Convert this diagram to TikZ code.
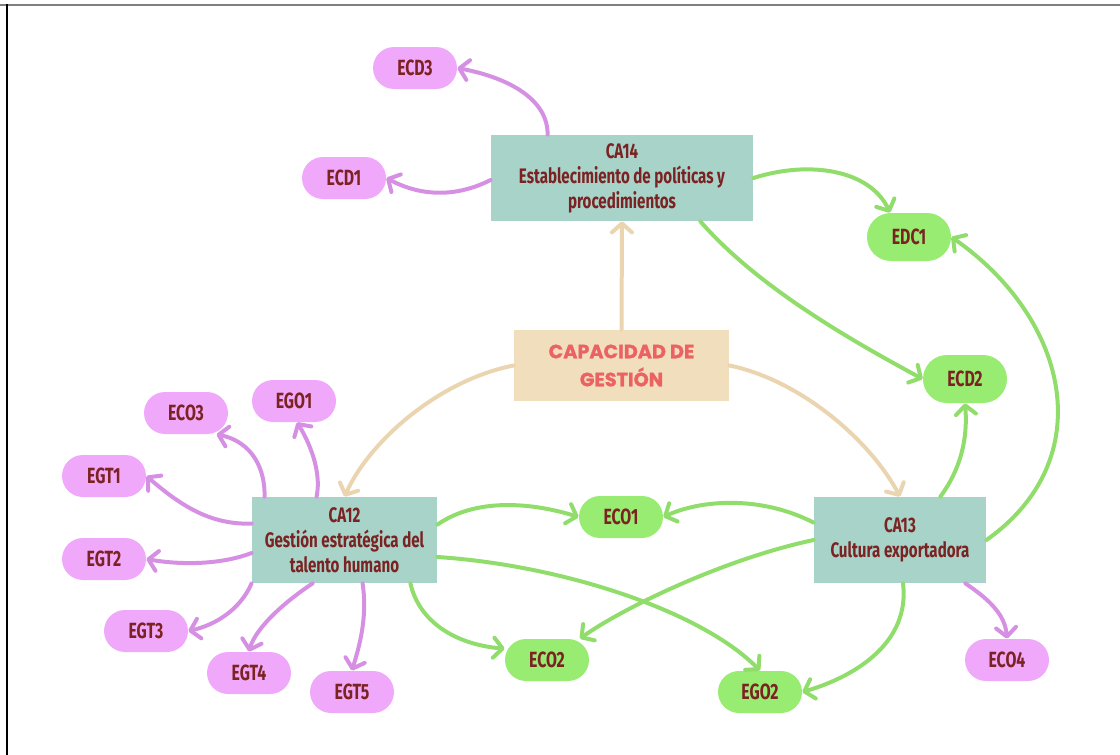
\documentclass[tikz,border=0pt]{standalone}
\usepackage{fontspec}
\setmainfont{Fira Sans}[FakeStretch=0.72]
\newfontfamily\titlefont{Poppins}[BoldFeatures={FakeBold=1.2}]
\usetikzlibrary{arrows.meta}

\definecolor{colTeal}{HTML}{A7D3C9}
\definecolor{colSand}{HTML}{F0DEBD}
\definecolor{colSandLine}{HTML}{EAD5B0}
\definecolor{colPink}{HTML}{F0A9FA}
\definecolor{colPinkLine}{HTML}{D690E3}
\definecolor{colGreen}{HTML}{98EC72}
\definecolor{colGreenLine}{HTML}{90DD6B}
\definecolor{colLabel}{HTML}{7B2222}
\definecolor{colTitle}{HTML}{EC6262}

\tikzset{
  capbox/.style={fill=colTeal, text=colLabel, align=center, inner sep=0pt,
    minimum height=43pt, font=\bfseries\fontsize{10.5}{12.5}\selectfont},
  pill/.style={rounded corners=10.5pt, minimum width=42pt, minimum height=21pt,
    inner sep=0pt, text=colLabel, font=\bfseries\fontsize{11}{12}\selectfont},
  pinkpill/.style={pill, fill=colPink},
  greenpill/.style={pill, fill=colGreen},
  link/.style={line width=2pt, line cap=round, line join=round,
    -{Straight Barb[length=4.5pt,width=10pt,line cap=round,line join=round]}},
  pinklink/.style={link, draw=colPinkLine},
  greenlink/.style={link, draw=colGreenLine},
  sandlink/.style={link, draw=colSandLine},
}

\begin{document}
\begin{tikzpicture}[x=0.5pt, y=-0.5pt]
    \useasboundingbox (0,0) rectangle (1120,755);

    % Frame
    \draw[gray, line width=1pt] (0,4.5) -- (1120,4.5);
    \draw[black, line width=1pt] (6.5,4) -- (6.5,755);

    % Main boxes
    \node[fill=colSand, minimum width=107.5pt, minimum height=35.5pt, align=center,
      text=colTitle, font=\titlefont\bfseries\fontsize{9.6}{14}\selectfont] (cap) at (621.5,365.5)
      {CAPACIDAD DE\\GESTIÓN};
    \node[capbox, minimum width=131pt] (ca14) at (622,178)
      {CA14\\Establecimiento de políticas y\\procedimientos};
    \node[capbox, minimum width=92.5pt] (ca12) at (344.5,540)
      {CA12\\Gestión estratégica del\\talento humano};
    \node[capbox, minimum width=86pt] (ca13) at (900,540)
      {CA13\\Cultura exportadora};

    % Pink pills
    \node[pinkpill] (ecd3) at (415,68) {ECD3};
    \node[pinkpill] (ecd1) at (344,178) {ECD1};
    \node[pinkpill] (eco3) at (186,413) {ECO3};
    \node[pinkpill] (ego1) at (294,401) {EGO1};
    \node[pinkpill] (egt1) at (104,476) {EGT1};
    \node[pinkpill] (egt2) at (104,559) {EGT2};
    \node[pinkpill] (egt3) at (146,631) {EGT3};
    \node[pinkpill] (egt4) at (249,673) {EGT4};
    \node[pinkpill] (egt5) at (352,692) {EGT5};
    \node[pinkpill] (eco4) at (1007,660) {ECO4};

    % Green pills
    \node[greenpill, minimum height=24pt, rounded corners=12pt] (edc1) at (909,237) {EDC1};
    \node[greenpill, minimum height=24pt, rounded corners=12pt] (ecd2) at (965,379) {ECD2};
    \node[greenpill] (eco1) at (621,517) {ECO1};
    \node[greenpill] (eco2) at (547,660) {ECO2};
    \node[greenpill] (ego2) at (760,692) {EGO2};

    % From the centre
    \draw[sandlink] (cap.north) -- (ca14.south);
    \draw[sandlink] (cap.west) .. controls (440,380) and (370,440) .. (ca12.north);
    \draw[sandlink] (cap.east) .. controls (800,380) and (870,440) .. (ca13.north);

    % CA14
    \draw[pinklink] ([xshift=28.5pt]ca14.north west) .. controls (548,100) and (510,78) .. (ecd3.east);
    \draw[pinklink] ([yshift=-1pt]ca14.west) .. controls (455,198) and (420,196) .. (ecd1.east);
    \draw[greenlink] (ca14.east) .. controls (810,160) and (870,170) .. ([xshift=-9.5pt]edc1.north);
    \draw[greenlink] ([xshift=-26.5pt]ca14.south east) .. controls (760,290) and (860,345) .. (ecd2.west);

    % CA12
    \draw[pinklink] ([xshift=6.5pt]ca12.north west) .. controls (265,460) and (245,440) .. (eco3.-35);
    \draw[pinklink] ([xshift=32.5pt]ca12.north west) .. controls (322,470) and (308,440) .. ([xshift=1.5pt]ego1.south);
    \draw[pinklink] ([yshift=-13.5pt]ca12.north west) .. controls (210,525) and (180,505) .. (egt1.east);
    \draw[pinklink] ([yshift=-6.5pt]ca12.west) .. controls (220,565) and (180,565) .. (egt2.east);
    \draw[pinklink] (ca12.south west) .. controls (240,610) and (215,625) .. (egt3.east);
    \draw[pinklink] ([xshift=30.5pt]ca12.south west) .. controls (280,605) and (255,630) .. (egt4.north);
    \draw[pinklink] ([xshift=55.5pt]ca12.south west) .. controls (368,620) and (358,650) .. (egt5.north);
    \draw[greenlink] ([yshift=-14pt]ca12.north east) .. controls (480,495) and (540,505) .. (eco1.west);
    \draw[greenlink] ([yshift=-8.5pt]ca12.east) .. controls (560,565) and (700,610) .. (ego2.north);
    \draw[greenlink] ([xshift=-13.5pt]ca12.south east) .. controls (420,625) and (460,645) .. (eco2.165);

    % CA13
    \draw[greenlink] ([yshift=-13pt]ca13.north west) .. controls (760,495) and (700,500) .. (eco1.east);
    \draw[greenlink] (ca13.west) .. controls (720,560) and (620,610) .. (eco2.33);
    \draw[greenlink] ([xshift=-23pt]ca13.north east) .. controls (960,470) and (968,440) .. (ecd2.south);
    \draw[greenlink] (ca13.east) .. controls (1100,460) and (1070,320) .. (edc1.east);
    \draw[greenlink] ([xshift=1.5pt]ca13.south) .. controls (910,640) and (860,675) .. (ego2.east);
    \draw[pinklink] ([xshift=-10.5pt]ca13.south east) .. controls (990,600) and (1005,615) .. (eco4.north);
\end{tikzpicture}
\end{document}
